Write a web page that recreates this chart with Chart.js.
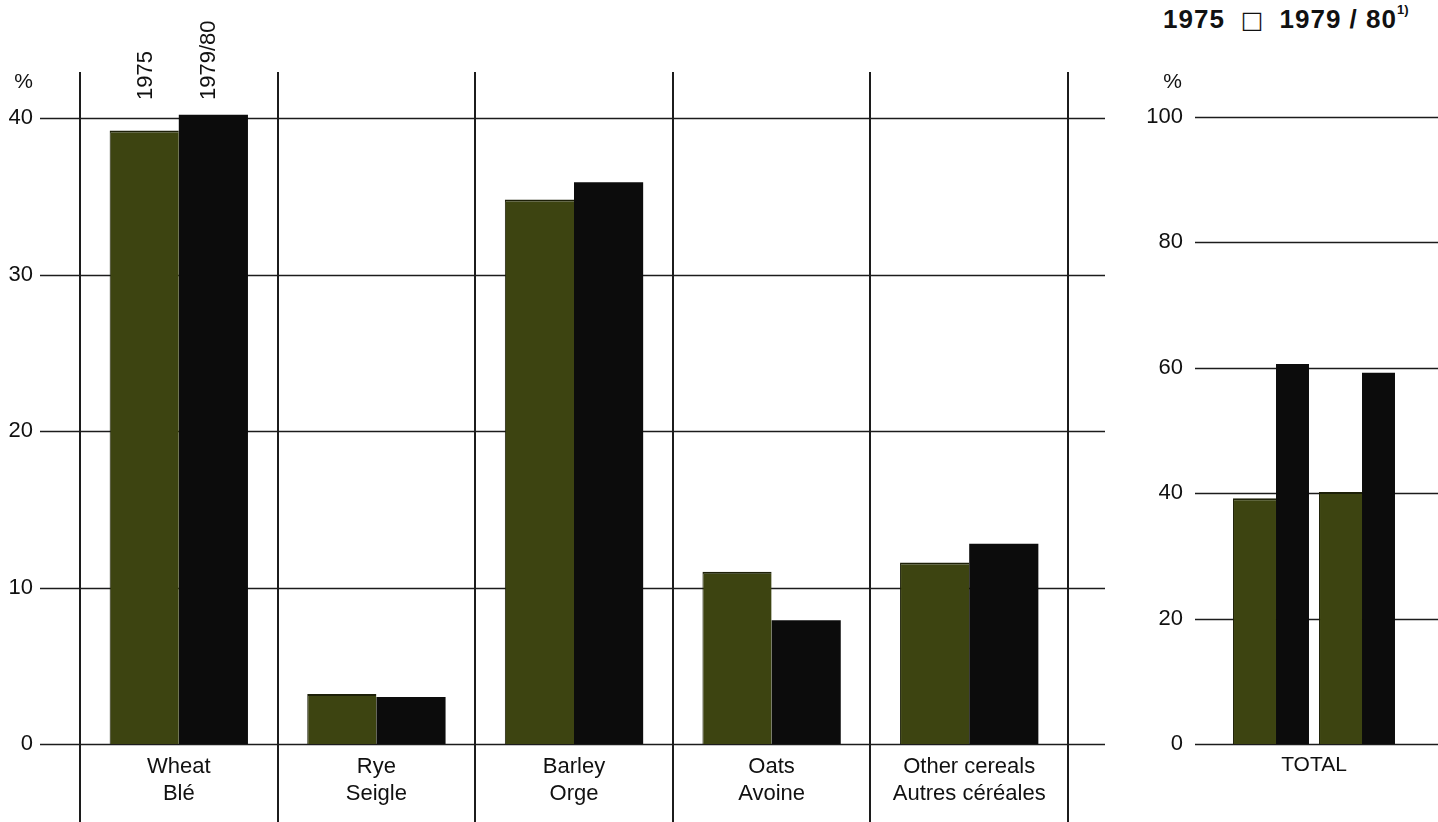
<!DOCTYPE html>
<html>
<head>
<meta charset="utf-8">
<script src="https://cdn.jsdelivr.net/npm/chart.js@4.4.0/dist/chart.umd.min.js"></script>
<style>
  body { margin: 0; background: #fff; width: 1438px; height: 822px; position: relative; overflow: hidden;
         font-family: 'Liberation Sans', Arial, Helvetica, sans-serif; color: #111; }
  #cerealChart { position: absolute; left: 0; top: 0; }
  #totalChart { position: absolute; left: 1110px; top: 0; }
  #legend { position: absolute; left: 1163px; top: 4px; font-size: 26px; font-weight: bold; white-space: nowrap; letter-spacing: 1px; }
  #legend .box { font-weight: normal; font-size: 24px; margin: 0 16px 0 16px; font-family: 'DejaVu Sans', sans-serif; letter-spacing: 0; }
  #legend sup { font-size: 13px; position: relative; top: -4px; letter-spacing: 0; }
</style>
</head>
<body>
<div id="legend">1975<span class="box">□</span>1979 / 80<sup>1)</sup></div>
<canvas id="cerealChart" width="1110" height="822"></canvas>
<canvas id="totalChart" width="328" height="822"></canvas>
<script>
// shares of cereal area, %
const categories = [['Wheat', 'Blé'], ['Rye', 'Seigle'], ['Barley', 'Orge'], ['Oats', 'Avoine'], ['Other cereals', 'Autres céréales']];
const years = ['1975', '1979/80'];
const share1975 = [39.2, 3.2, 34.8, 11.0, 11.6];
const share1979 = [40.2, 3.0, 35.9, 7.9, 12.8];
const cerealTicks = [0, 10, 20, 30, 40];

// total: wheat vs other cereals
const totalYears = ['1975', '1979/80'];
const totalWheat = [39.2, 40.2];
const totalOther = [60.6, 59.2];
const totalTicks = [0, 20, 40, 60, 80, 100];
const totalLabel = 'TOTAL';

const green = '#3d4411';
const black = '#0c0c0c';
const lineColor = '#1c1c1c';
const fontFamily = "'Liberation Sans', Arial, Helvetica, sans-serif";

Chart.defaults.font.family = fontFamily;
Chart.defaults.color = '#111';

// gridlines, separators and extra labels for the cereal chart
const cerealLines = {
  id: 'cerealLines',
  beforeDatasetsDraw(chart) {
    const { ctx, chartArea, scales: { x, y } } = chart;
    ctx.save();
    ctx.strokeStyle = lineColor;
    ctx.lineWidth = 1.5;
    y.ticks.forEach((t) => {
      const py = Math.round(y.getPixelForValue(t.value)) + 0.5;
      ctx.beginPath();
      ctx.moveTo(40, py);
      ctx.lineTo(chartArea.right + 37, py);
      ctx.stroke();
    });
    ctx.lineWidth = 2;
    const step = x.getPixelForValue(1) - x.getPixelForValue(0);
    const top = y.getPixelForValue(40) - 46;
    for (let i = 0; i <= categories.length; i++) {
      const px = Math.round(x.getPixelForValue(0) - step / 2 + i * step);
      ctx.beginPath();
      ctx.moveTo(px, top);
      ctx.lineTo(px, chart.height);
      ctx.stroke();
    }
    ctx.restore();
  },
  afterDatasetsDraw(chart) {
    const { ctx, scales: { y } } = chart;
    ctx.save();
    ctx.fillStyle = '#111';
    ctx.font = '21px ' + fontFamily;
    ctx.textAlign = 'right';
    ctx.textBaseline = 'alphabetic';
    ctx.fillText('%', 33, y.getPixelForValue(40) - 30);
    // rotated year labels above the first pair of bars
    const shift = [2, -4];
    ctx.font = '22px ' + fontFamily;
    ctx.textAlign = 'left';
    ctx.textBaseline = 'middle';
    years.forEach((yr, i) => {
      const bar = chart.getDatasetMeta(i).data[0];
      ctx.save();
      ctx.translate(bar.x + shift[i], 100);
      ctx.rotate(-Math.PI / 2);
      ctx.fillText(yr, 0, 0);
      ctx.restore();
    });
    ctx.restore();
  },
};

new Chart(document.getElementById('cerealChart'), {
  type: 'bar',
  data: {
    labels: categories,
    datasets: [
      { label: years[0], data: share1975, backgroundColor: green, borderColor: '#1d2008', borderWidth: { top: 2, left: 1, right: 0, bottom: 0 }, clip: false },
      { label: years[1], data: share1979, backgroundColor: black, borderColor: black, borderWidth: 0, clip: false },
    ],
  },
  options: {
    responsive: false,
    animation: false,
    categoryPercentage: 0.7,
    barPercentage: 1.0,
    layout: { padding: { top: 118, right: 42, left: 0, bottom: 0 } },
    plugins: { legend: { display: false }, tooltip: { enabled: false } },
    scales: {
      x: {
        grid: { display: false, drawTicks: false },
        border: { display: false },
        ticks: { font: { size: 22 }, padding: 10, maxRotation: 0, autoSkip: false, color: '#111' },
        afterFit: (scale) => { scale.height = 78; },
      },
      y: {
        min: 0,
        max: 40,
        afterBuildTicks: (scale) => { scale.ticks = cerealTicks.map((v) => ({ value: v })); },
        grid: { display: false, drawTicks: false },
        border: { display: false },
        ticks: { font: { size: 22 }, padding: 47, color: '#111' },
        afterFit: (scale) => { scale.width = 80; },
      },
    },
  },
  plugins: [cerealLines],
});

// gridlines and % label for the total chart
const totalLines = {
  id: 'totalLines',
  beforeDatasetsDraw(chart) {
    const { ctx, scales: { y } } = chart;
    ctx.save();
    ctx.strokeStyle = lineColor;
    ctx.lineWidth = 1.5;
    y.ticks.forEach((t) => {
      const py = Math.round(y.getPixelForValue(t.value)) + 0.5;
      ctx.beginPath();
      ctx.moveTo(85, py);
      ctx.lineTo(chart.width, py);
      ctx.stroke();
    });
    ctx.restore();
  },
  afterDatasetsDraw(chart) {
    const { ctx, scales: { y } } = chart;
    ctx.save();
    ctx.fillStyle = '#111';
    ctx.font = '21px ' + fontFamily;
    ctx.textAlign = 'right';
    ctx.fillText('%', 72, y.getPixelForValue(100) - 29);
    ctx.restore();
  },
};

new Chart(document.getElementById('totalChart'), {
  type: 'bar',
  data: {
    labels: totalYears,
    datasets: [
      { label: 'Wheat', data: totalWheat, backgroundColor: green, borderColor: '#1d2008', borderWidth: { top: 2, left: 1, right: 0, bottom: 0 },
        categoryPercentage: 0.767, barPercentage: 1.303 },
      { label: 'Other', data: totalOther, backgroundColor: black, borderWidth: 0,
        categoryPercentage: 1.0, barPercentage: 0.767 },
    ],
  },
  options: {
    responsive: false,
    animation: false,
    layout: { padding: { top: 117, right: 38, left: 0, bottom: 0 } },
    plugins: { legend: { display: false }, tooltip: { enabled: false } },
    scales: {
      x: {
        grid: { display: false, drawTicks: false },
        border: { display: false },
        ticks: { display: false },
        title: { display: true, text: totalLabel, font: { size: 21 }, color: '#111', padding: { top: 0, bottom: 44 } },
        afterFit: (scale) => { scale.height = 78; },
      },
      y: {
        min: 0,
        max: 100,
        afterBuildTicks: (scale) => { scale.ticks = totalTicks.map((v) => ({ value: v })); },
        grid: { display: false, drawTicks: false },
        border: { display: false },
        ticks: { font: { size: 22 }, padding: 45, color: '#111' },
        afterFit: (scale) => { scale.width = 118; },
      },
    },
  },
  plugins: [totalLines],
});
</script>
</body>
</html>
